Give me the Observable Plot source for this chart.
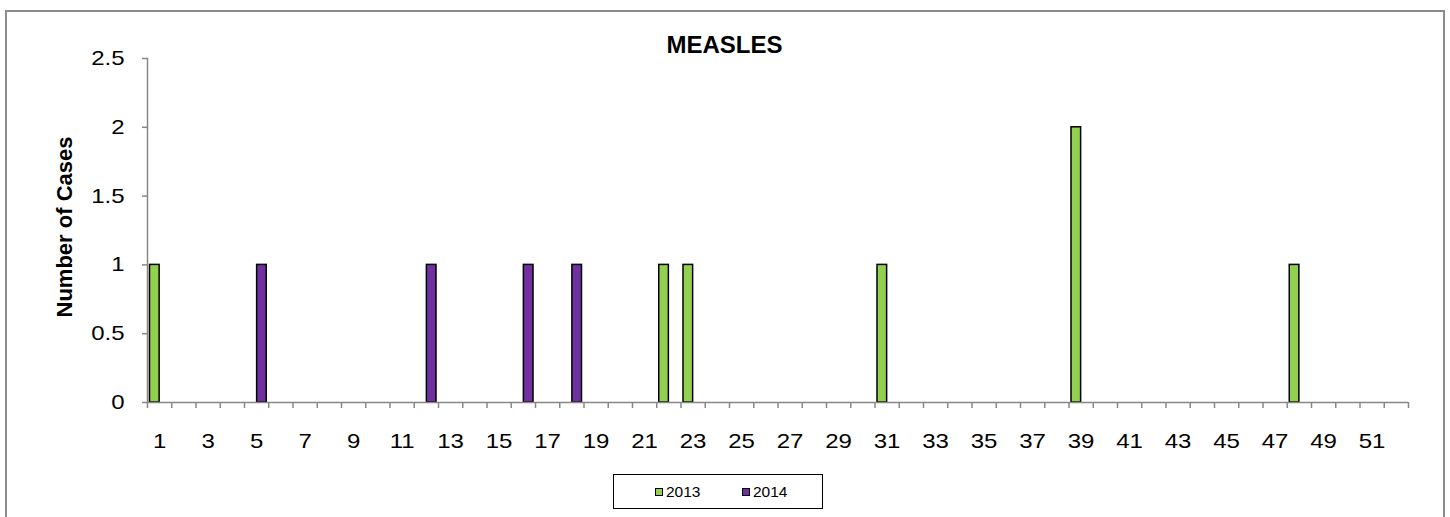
<!DOCTYPE html>
<html>
<head>
<meta charset="utf-8">
<script src="https://cdn.jsdelivr.net/npm/d3@7"></script>
<script src="https://cdn.jsdelivr.net/npm/@observablehq/plot@0.6"></script>
<style>
  body { margin: 0; background: #fff; font-family: "Liberation Sans", Arial, sans-serif; }
  #wrap { position: relative; width: 1450px; height: 517px; overflow: hidden; background: #fff; }
  #border { position: absolute; left: 5px; top: 9.5px; width: 1440px; height: 620px; border: 2px solid #8c8c8c; box-sizing: border-box; }
  #chart { position: absolute; left: 0; top: 0; }
  #title { position: absolute; left: 0; width: 1449px; top: 33px; text-align: center; font-weight: bold; font-size: 24px; line-height: 24px; color: #000; }
  #ylabel { position: absolute; left: 65px; top: 227px; transform: translate(-50%, -50%) rotate(-90deg); font-weight: bold; font-size: 22px; line-height: 22px; white-space: nowrap; color: #000; }
  #legend { position: absolute; left: 613px; top: 474px; width: 210px; height: 35px; border: 1px solid #000; box-sizing: border-box; font-size: 15.5px; }
  .item { position: absolute; top: 0; height: 33px; display: flex; align-items: center; }
  .sw { width: 8px; height: 8px; border: 1px solid #000; margin-right: 3px; box-sizing: border-box; }
</style>
</head>
<body>
<div id="wrap">
  <div id="border"></div>
  <div id="chart"></div>
  <div id="title"></div>
  <div id="ylabel"></div>
  <div id="legend"></div>
</div>
<script>
const chartTitle = "MEASLES";
const yTitle = "Number of Cases";
const weeks = [1,2,3,4,5,6,7,8,9,10,11,12,13,14,15,16,17,18,19,20,21,22,23,24,25,26,
               27,28,29,30,31,32,33,34,35,36,37,38,39,40,41,42,43,44,45,46,47,48,49,50,51,52];
const xLabelWeeks = [1,3,5,7,9,11,13,15,17,19,21,23,25,27,29,31,33,35,37,39,41,43,45,47,49,51];
const yTicks = [0, 0.5, 1, 1.5, 2, 2.5];
const seriesNames = ["2013", "2014"];
const seriesColors = ["#92D050", "#7030A0"];
const cases2013 = [1,0,0,0,0,0,0,0,0,0,0,0,0,0,0,0,0,0,0,0,0,1,1,0,0,0,
                   0,0,0,0,1,0,0,0,0,0,0,0,2,0,0,0,0,0,0,0,0,1,0,0,0,0];
const cases2014 = [0,0,0,0,1,0,0,0,0,0,0,1,0,0,0,1,0,1,0,0,0,0,0,0,0,0,
                   0,0,0,0,0,0,0,0,0,0,0,0,0,0,0,0,0,0,0,0,0,0,0,0,0,0];

const W = 1450, H = 517;
const mL = 147, mR = 42, mT = 58, mB = 115;
const band = (W - mL - mR) / weeks.length;
const gray = "#878787";

const rows = (vals, name) => weeks.map((w, i) => ({week: w, cases: vals[i], series: name})).filter(d => d.cases > 0);
const r2013 = rows(cases2013, seriesNames[0]);
const r2014 = rows(cases2014, seriesNames[1]);

const plot = Plot.plot({
  width: W, height: H,
  marginLeft: mL, marginRight: mR, marginTop: mT, marginBottom: mB,
  style: {fontFamily: "'Liberation Sans', Arial, sans-serif", fontSize: "20px", color: "#000", background: "transparent", overflow: "visible"},
  x: {type: "band", domain: weeks, padding: 0, round: false, axis: null, label: null},
  y: {domain: [0, 2.5], axis: null, label: null},
  marks: [
    Plot.frame({anchor: "left", stroke: gray, strokeWidth: 1.5}),
    Plot.barY(r2013, {x: "week", y: "cases", fill: seriesColors[0], stroke: "#000", strokeWidth: 1.5, insetLeft: 2.5, insetRight: band / 2}),
    Plot.barY(r2014, {x: "week", y: "cases", fill: seriesColors[1], stroke: "#000", strokeWidth: 1.5, insetLeft: band / 2 + 0.5, insetRight: 2}),
    Plot.ruleY([0], {stroke: gray, strokeWidth: 1.5}),
    Plot.axisY({ticks: yTicks, label: null, tickSize: 5, tickPadding: 18, stroke: gray, strokeWidth: 1.5, fill: "#000", fontSize: 20, tickFormat: d => String(d)}),
    Plot.axisX({ticks: weeks, label: null, tickSize: 6, tickFormat: () => "", stroke: gray, strokeWidth: 1.5, dx: -band / 2}),
    Plot.axisX({ticks: [weeks[weeks.length - 1]], label: null, tickSize: 6, tickFormat: () => "", stroke: gray, strokeWidth: 1.5, dx: band / 2}),
    Plot.axisX({ticks: xLabelWeeks, label: null, tickSize: 0, tickPadding: 31, fill: "#000", fontSize: 20})
  ]
});
// the reference's tick labels are drawn slightly wider than the font's natural width
d3.select(plot).selectAll("g[aria-label='y-axis tick label'] text, g[aria-label='x-axis tick label'] text")
  .each(function () {
    const t = this.getAttribute("transform") || "";
    this.setAttribute("transform", t + " scale(1.2,1)");
  });
document.getElementById("chart").appendChild(plot);
document.getElementById("title").textContent = chartTitle;
document.getElementById("ylabel").textContent = yTitle;

const legend = document.getElementById("legend");
const itemLefts = [41, 128];
seriesNames.forEach((name, i) => {
  const it = document.createElement("div");
  it.className = "item";
  it.style.left = itemLefts[i] + "px";
  const sw = document.createElement("span");
  sw.className = "sw";
  sw.style.background = seriesColors[i];
  const tx = document.createElement("span");
  tx.textContent = name;
  it.appendChild(sw); it.appendChild(tx);
  legend.appendChild(it);
});
</script>
</body>
</html>
